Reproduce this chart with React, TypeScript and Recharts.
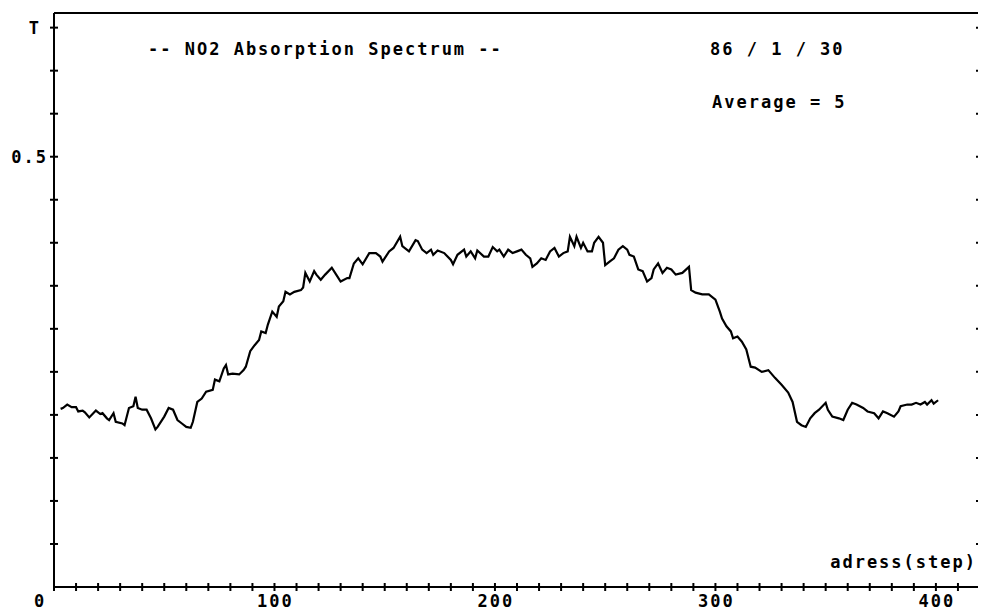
import React from 'react';
import { LineChart, Line, XAxis, YAxis } from 'recharts';

// address steps, with the transmittance at each one
const steps = [
  3, 4, 6, 8, 10, 11, 13, 14, 16, 19, 21, 22, 24, 25, 27, 28, 31, 32, 34, 36, 37, 38, 40, 42, 44, 46, 47, 50, 52, 54,
  56, 58, 60, 62, 63, 65, 67, 69, 72, 73, 75, 77, 78, 79, 81, 84, 86, 87, 89, 91, 93, 94, 96, 97, 99, 101, 102, 104,
  105, 107, 109, 112, 113, 114, 116, 118, 119, 121, 123, 126, 128, 130, 133, 134, 136, 138, 140, 143, 146, 148, 149,
  152, 154, 157, 158, 161, 164, 165, 167, 169, 171, 172, 174, 177, 180, 181, 183, 186, 187, 189, 191, 192, 195, 197,
  199, 201, 202, 204, 206, 208, 210, 212, 214, 216, 217, 219, 221, 223, 225, 227, 229, 231, 233, 234, 236, 237, 239,
  240, 242, 244, 245, 247, 249, 250, 252, 254, 256, 258, 260, 261, 263, 265, 267, 269, 271, 272, 274, 276, 278, 280,
  282, 285, 288, 289, 291, 294, 297, 300, 302, 303, 305, 307, 308, 310, 312, 314, 316, 318, 321, 324, 327, 330, 333,
  335, 337, 339, 341, 343, 345, 347, 350, 351, 353, 356, 358, 360, 362, 364, 367, 369, 372, 374, 376, 378, 381, 383,
  384, 387, 389, 391, 393, 395, 396, 398, 399, 401,
];

const transmittance = [
  0.207, 0.208, 0.212, 0.209, 0.209, 0.204, 0.205, 0.203, 0.197, 0.205, 0.201, 0.202, 0.196, 0.194, 0.202, 0.192,
  0.19, 0.188, 0.208, 0.21, 0.221, 0.208, 0.206, 0.206, 0.196, 0.183, 0.186, 0.198, 0.208, 0.206, 0.194, 0.19, 0.186,
  0.185, 0.192, 0.215, 0.219, 0.227, 0.229, 0.241, 0.239, 0.254, 0.258, 0.247, 0.248, 0.247, 0.252, 0.256, 0.274,
  0.281, 0.287, 0.297, 0.295, 0.305, 0.32, 0.314, 0.326, 0.332, 0.343, 0.34, 0.343, 0.345, 0.348, 0.365, 0.355,
  0.367, 0.363, 0.357, 0.363, 0.371, 0.363, 0.355, 0.359, 0.359, 0.376, 0.382, 0.375, 0.388, 0.388, 0.384, 0.378,
  0.39, 0.394, 0.407, 0.396, 0.39, 0.403, 0.402, 0.392, 0.388, 0.392, 0.386, 0.391, 0.388, 0.38, 0.375, 0.386, 0.392,
  0.384, 0.39, 0.382, 0.391, 0.384, 0.384, 0.395, 0.39, 0.392, 0.384, 0.392, 0.388, 0.39, 0.392, 0.386, 0.382, 0.372,
  0.376, 0.382, 0.38, 0.39, 0.394, 0.384, 0.388, 0.39, 0.407, 0.396, 0.407, 0.394, 0.4, 0.39, 0.39, 0.4, 0.407, 0.4,
  0.374, 0.378, 0.382, 0.392, 0.396, 0.392, 0.386, 0.384, 0.369, 0.367, 0.355, 0.359, 0.369, 0.376, 0.365, 0.371,
  0.369, 0.363, 0.365, 0.372, 0.345, 0.342, 0.34, 0.34, 0.334, 0.32, 0.312, 0.303, 0.297, 0.289, 0.291, 0.285, 0.276,
  0.256, 0.255, 0.25, 0.252, 0.243, 0.235, 0.226, 0.215, 0.192, 0.188, 0.186, 0.196, 0.202, 0.206, 0.214, 0.206,
  0.198, 0.196, 0.194, 0.206, 0.214, 0.212, 0.208, 0.204, 0.202, 0.196, 0.204, 0.202, 0.198, 0.204, 0.21, 0.212,
  0.212, 0.214, 0.212, 0.215, 0.212, 0.217, 0.213, 0.217,
];

const xTicks = [
  0, 10, 20, 30, 40, 50, 60, 70, 80, 90, 100, 110, 120, 130, 140, 150, 160, 170, 180, 190, 200, 210, 220, 230, 240,
  250, 260, 270, 280, 290, 300, 310, 320, 330, 340, 350, 360, 370, 380, 390, 400, 410,
];
const xLabels = [0, 100, 200, 300, 400];

const yTicks = [0.05, 0.1, 0.15, 0.2, 0.25, 0.3, 0.35, 0.4, 0.45, 0.5, 0.55, 0.6, 0.65];
const yLabels: Record<string, string> = { '0.5': '0.5', '0.65': 'T' };

const data = steps.map((s, i) => ({ step: s, t: transmittance[i] }));

const FONT = '"DejaVu Sans Mono", monospace';
const textStyle = { fontFamily: FONT, fontSize: 17, fontWeight: 'bold' as const, letterSpacing: 2, fill: '#000' };

const BottomTick = (props: any) => {
  const { x, y, payload } = props;
  const show = xLabels.includes(payload.value);
  return (
    <g>
      <line x1={x} x2={x} y1={y - 4} y2={y + 4} stroke="#000" strokeWidth={2} />
      {show && (
        <text x={payload.value === 0 ? x - 14 : x + 1} y={y + 20} textAnchor="middle" style={textStyle}>
          {payload.value}
        </text>
      )}
    </g>
  );
};

const LeftTick = (props: any) => {
  const { x, y, payload } = props;
  const label = yLabels[String(payload.value)];
  return (
    <g>
      <line x1={x - 4} x2={x + 4} y1={y} y2={y} stroke="#000" strokeWidth={2} />
      {label && (
        <text x={label === 'T' ? x - 13 : x - 6} y={y + 6} textAnchor="end" style={textStyle}>
          {label}
        </text>
      )}
    </g>
  );
};

const RightTick = (props: any) => {
  const { x, y } = props;
  return <line x1={x - 4} x2={x + 4} y1={y} y2={y} stroke="#000" strokeWidth={2} />;
};

export default function App() {
  return (
    <div style={{ position: 'relative', width: 978, height: 605, background: '#fff' }}>
      <LineChart width={978} height={605} data={data} margin={{ top: 4, right: 5, left: 45, bottom: 25 }}>
        <XAxis
          dataKey="step"
          type="number"
          domain={[0, 420]}
          ticks={xTicks}
          interval={0}
          height={1}
          tickSize={0}
          tickMargin={0}
          tick={<BottomTick />}
          axisLine={{ stroke: '#000', strokeWidth: 2 }}
          allowDataOverflow
        />
        <XAxis
          xAxisId="top"
          orientation="top"
          dataKey="step"
          type="number"
          domain={[0, 420]}
          height={1}
          tick={false}
          tickLine={false}
          axisLine={{ stroke: '#000', strokeWidth: 2 }}
        />
        <YAxis
          type="number"
          domain={[0, 0.667]}
          ticks={yTicks}
          interval={0}
          width={1}
          tickSize={0}
          tickMargin={0}
          tick={<LeftTick />}
          axisLine={{ stroke: '#000', strokeWidth: 2 }}
          allowDataOverflow
        />
        <YAxis
          yAxisId="right"
          orientation="right"
          type="number"
          domain={[0, 0.667]}
          ticks={yTicks}
          interval={0}
          width={1}
          tickSize={0}
          tickMargin={0}
          tick={<RightTick />}
          axisLine={{ stroke: '#000', strokeWidth: 2 }}
          allowDataOverflow
        />
        <Line
          type="linear"
          dataKey="t"
          stroke="#000"
          strokeWidth={2.2}
          dot={false}
          isAnimationActive={false}
        />
      </LineChart>
      <svg width={978} height={605} style={{ position: 'absolute', left: 0, top: 0, pointerEvents: 'none' }}>
        <text x={140} y={47} style={textStyle}>-- NO2 Absorption Spectrum --</text>
        <text x={702} y={47} style={textStyle}>86 / 1 / 30</text>
        <text x={704} y={100} style={textStyle}>Average = 5</text>
        <text x={969} y={560} textAnchor="end" style={textStyle}>adress(step)</text>
      </svg>
    </div>
  );
}
